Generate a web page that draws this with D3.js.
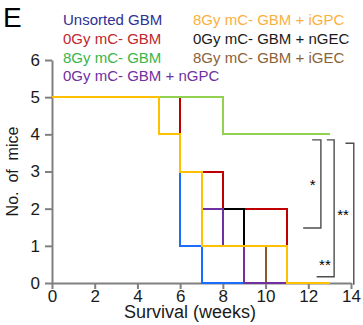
<!DOCTYPE html>
<html>
<head>
<meta charset="utf-8">
<script src="https://cdn.jsdelivr.net/npm/d3@7"></script>
<style>
  body { margin: 0; background: #fff; }
  svg text { font-family: Arial, "Liberation Sans", sans-serif; }
</style>
</head>
<body>
<div class="chart"></div>
<script>
// survival data: weeks at which the count changes, and mice alive
const names = ['Unsorted GBM', '0Gy mC- GBM', '8Gy mC- GBM', '0Gy mC- GBM + nGPC',
  '8Gy mC- GBM + iGPC', '0Gy mC- GBM + nGEC', '8Gy mC- GBM + iGEC'];
const unsortedWeeks = [0, 6, 7, 9];
const unsortedMice = [5, 1, 0, 0];
const gy0Weeks = [0, 6, 8, 11];
const gy0Mice = [5, 3, 2, 1];
const gy8Weeks = [0, 8, 13];
const gy8Mice = [5, 4, 4];
const nGPCWeeks = [0, 5, 6, 7, 8, 9, 11];
const nGPCMice = [5, 4, 3, 2, 1, 0, 0];
const iGPCWeeks = [0, 5, 6, 7, 11, 13];
const iGPCMice = [5, 4, 3, 1, 0, 0];
const nGECWeeks = [0, 5, 6, 7, 9, 11];
const nGECMice = [5, 4, 3, 2, 1, 0];
const iGECWeeks = [0, 6, 7, 10, 11];
const iGECMice = [5, 3, 1, 0, 0];
const xTicks = [0, 2, 4, 6, 8, 10, 12, 14];
const yTicks = [0, 1, 2, 3, 4, 5, 6];

// significance brackets in data units
const brackets = [
  { x: 12.59, topX: 12.18, botX: 11.76, top: 3.85, bot: 1.48, label: '*', lx: 12.2, ly: 2.6 },
  { x: 13.21, topX: 12.87, botX: 12.39, top: 3.85, bot: 0.17, label: '**', lx: 12.78, ly: 0.45 },
  { x: 14.13, topX: 13.74, botX: 14.13, top: 3.76, bot: -0.05, label: '**', lx: 13.63, ly: 1.8 }
];

const lineColors = ['#1a6dff', '#c00000', '#92d050', '#7030a0', '#ffc000', '#000000', '#8b5a2b'];
const textColors = ['#2e3192', '#c1272d', '#39b54a', '#7030a0', '#fbb040', '#1a1a1a', '#8c6239'];

const series = [
  { weeks: unsortedWeeks, mice: unsortedMice },
  { weeks: gy0Weeks, mice: gy0Mice },
  { weeks: gy8Weeks, mice: gy8Mice },
  { weeks: nGPCWeeks, mice: nGPCMice },
  { weeks: iGPCWeeks, mice: iGPCMice },
  { weeks: nGECWeeks, mice: nGECMice },
  { weeks: iGECWeeks, mice: iGECMice }
].map((s, i) => ({ name: names[i], color: lineColors[i], pts: s.weeks.map((w, j) => [w, s.mice[j]]) }));

// drawing order, bottom to top
const drawOrder = [6, 0, 1, 5, 3, 2, 4];

let width = 363;
let height = 325;

let xScale = d3.scaleLinear().domain([0, 14]).range([52, 351]);
let yScale = d3.scaleLinear().domain([0, 6]).range([283, 60]);

let svg = d3.select('.chart').append('svg').attr('width', width).attr('height', height);

// panel letter
svg.append('text').attr('x', 3).attr('y', 27).attr('font-size', 28).text('E');

// legend
const legendPos = [[63, 25], [63, 43.5], [63, 62.5], [63, 81], [193, 25], [193, 43.5], [193, 62.5]];
svg.selectAll('.legend')
  .data(names)
  .enter()
  .append('text')
  .attr('class', 'legend')
  .attr('x', (d, i) => legendPos[i][0])
  .attr('y', (d, i) => legendPos[i][1])
  .attr('font-size', 15)
  .attr('fill', (d, i) => textColors[i])
  .text(d => d);

// axes
let yAxis = svg.append('g')
  .attr('transform', `translate(${xScale(0)},0)`)
  .call(d3.axisLeft(yScale).tickValues(yTicks).tickFormat(d3.format('d'))
    .tickSize(7).tickSizeOuter(0).tickPadding(5));
let xAxis = svg.append('g')
  .attr('transform', `translate(0,${yScale(0)})`)
  .call(d3.axisBottom(xScale).tickValues(xTicks).tickFormat(d3.format('d'))
    .tickSize(6).tickSizeOuter(0).tickPadding(1));

[xAxis, yAxis].forEach(ax => {
  ax.select('.domain').attr('stroke', '#808080').attr('stroke-width', 2);
  ax.selectAll('.tick line').attr('stroke', '#808080').attr('stroke-width', 2);
  ax.selectAll('.tick text').attr('font-size', 17).attr('fill', '#1a1a1a')
    .style('font-family', 'Arial, "Liberation Sans", sans-serif');
});

// survival curves
let line = d3.line()
  .x(d => xScale(d[0]))
  .y(d => yScale(d[1]))
  .curve(d3.curveStepAfter);

svg.selectAll('.curve')
  .data(drawOrder.map(i => series[i]))
  .enter()
  .append('path')
  .attr('class', 'curve')
  .attr('d', d => line(d.pts))
  .attr('fill', 'none')
  .attr('stroke', d => d.color)
  .attr('stroke-width', 2)
  .attr('shape-rendering', 'crispEdges');

// significance brackets
brackets.forEach(b => {
  svg.append('path')
    .attr('d', `M${xScale(b.topX)},${yScale(b.top)}H${xScale(b.x)}V${yScale(b.bot)}H${xScale(b.botX)}`)
    .attr('fill', 'none')
    .attr('stroke', '#4d4d4d')
    .attr('stroke-width', 1.4);
  svg.append('text')
    .attr('x', xScale(b.lx))
    .attr('y', yScale(b.ly))
    .attr('font-size', 15)
    .attr('text-anchor', 'middle')
    .attr('dominant-baseline', 'middle')
    .text(b.label);
});

// axis titles
svg.append('text')
  .attr('x', 190)
  .attr('y', 318)
  .attr('font-size', 18)
  .attr('text-anchor', 'middle')
  .attr('fill', '#1a1a1a')
  .text('Survival (weeks)');

svg.append('text')
  .attr('transform', `translate(18,${yScale(3)}) rotate(-90)`)
  .attr('font-size', 16)
  .attr('text-anchor', 'middle')
  .attr('fill', '#1a1a1a')
  .attr('xml:space', 'preserve')
  .text('No.  of  mice');
</script>
</body>
</html>
